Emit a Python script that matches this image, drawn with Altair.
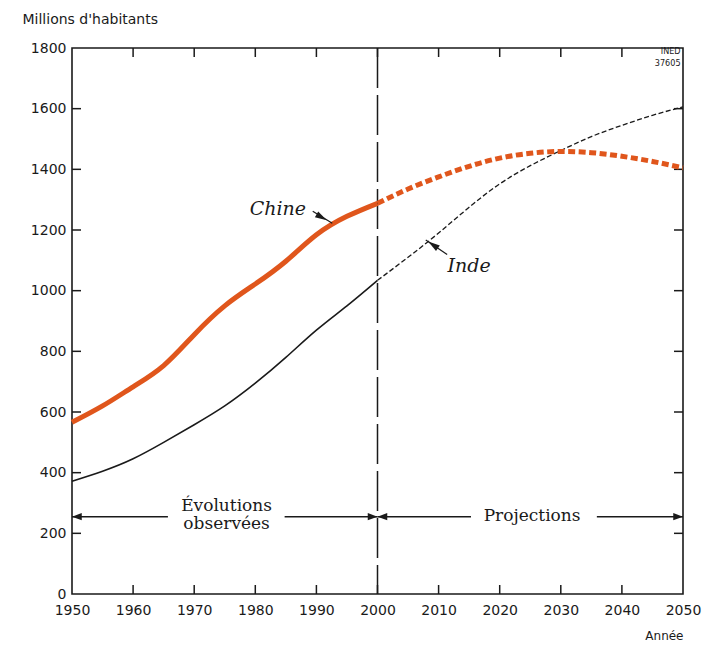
import altair as alt
import pandas as pd

# ---- data ----
years_obs = [1950, 1955, 1960, 1965, 1970, 1975, 1980, 1985, 1990, 1995, 2000]
chine_obs = [566, 620, 683, 753, 855, 950, 1022, 1097, 1184, 1245, 1288]
inde_obs = [372, 405, 446, 500, 558, 620, 695, 780, 870, 950, 1034]

years_proj = [2000, 2005, 2010, 2015, 2020, 2025, 2030, 2035, 2040, 2045, 2050]
chine_proj = [1288, 1335, 1375, 1410, 1437, 1453, 1459, 1455, 1443, 1426, 1405]
inde_proj = [1034, 1110, 1190, 1275, 1352, 1412, 1462, 1508, 1545, 1578, 1606]

x_ticks = [1950, 1960, 1970, 1980, 1990, 2000, 2010, 2020, 2030, 2040, 2050]
y_ticks = [0, 200, 400, 600, 800, 1000, 1200, 1400, 1600, 1800]

W, H = 611, 546
X0, X1, Y0, Y1 = 1950, 2050, 0, 1800
TICK = 9
tx = TICK * (X1 - X0) / W
ty = TICK * (Y1 - Y0) / H

ORANGE = "#e0561c"
INK = "#1a1a1a"

xs = alt.Scale(domain=[X0, X1], nice=False, zero=False)
ys = alt.Scale(domain=[Y0, Y1], nice=False, zero=False)

x_axis = alt.Axis(
    values=x_ticks, format="d", title="Année", domain=False, ticks=False, grid=False,
    labelFont="DejaVu Sans", labelFontSize=14, labelColor=INK, labelPadding=9,
    labelFlush=False, labelOverlap=False, labelBound=False,
    titleFont="DejaVu Sans", titleFontSize=12, titleFontWeight="normal", titleColor=INK,
    titleAlign="right", titleAnchor="end", titleX=W, titleY=45, titleBaseline="alphabetic")
y_axis = alt.Axis(
    values=y_ticks, format="d", title="Millions d'habitants", domain=False, ticks=False, grid=False,
    labelFont="DejaVu Sans", labelFontSize=14, labelColor=INK, labelPadding=6,
    labelFlush=False, labelOverlap=False, labelBound=False,
    titleFont="DejaVu Sans", titleFontSize=14, titleFontWeight="normal", titleColor=INK,
    titleAngle=0, titleAlign="left", titleX=-50, titleY=-25, titleBaseline="alphabetic")


def X(f, **kw):
    return alt.X(f, type="quantitative", scale=xs, axis=x_axis, **kw)


def Y(f, **kw):
    return alt.Y(f, type="quantitative", scale=ys, axis=y_axis, **kw)


df_obs = pd.DataFrame({"year": years_obs, "Chine": chine_obs, "Inde": inde_obs})
df_proj = pd.DataFrame({"year": years_proj, "Chine": chine_proj, "Inde": inde_proj})

# inner ticks on the four sides
inner_x = [v for v in x_ticks if X0 < v < X1]
inner_y = [v for v in y_ticks if Y0 < v < Y1]
bt = pd.DataFrame({"x": inner_x, "a": [Y0] * len(inner_x), "b": [Y0 + ty] * len(inner_x)})
tt = pd.DataFrame({"x": inner_x, "a": [Y1] * len(inner_x), "b": [Y1 - ty] * len(inner_x)})
lt = pd.DataFrame({"y": inner_y, "a": [X0] * len(inner_y), "b": [X0 + tx] * len(inner_y)})
rt = pd.DataFrame({"y": inner_y, "a": [X1] * len(inner_y), "b": [X1 - tx] * len(inner_y)})
tick_style = dict(color=INK, strokeWidth=1.5)
ticks = (
    alt.Chart(bt).mark_rule(**tick_style).encode(x=X("x"), y=Y("a"), y2="b")
    + alt.Chart(tt).mark_rule(**tick_style).encode(x=X("x"), y=Y("a"), y2="b")
    + alt.Chart(lt).mark_rule(**tick_style).encode(y=Y("y"), x=X("a"), x2="b")
    + alt.Chart(rt).mark_rule(**tick_style).encode(y=Y("y"), x=X("a"), x2="b")
)

# vertical separator at 2000
sep = alt.Chart(pd.DataFrame({"x": [2000], "a": [Y1], "b": [Y0]})).mark_rule(
    color=INK, strokeWidth=1.5, strokeDash=[40, 7]
).encode(x=X("x"), y=Y("a"), y2="b")

# period arrows
ARROW_Y = 255
segs = pd.DataFrame({"a": [1950, 1984.8, 2000, 2035.9], "b": [1965.7, 2000, 2015.3, 2050],
                     "y": [ARROW_Y] * 4})
seg_rules = alt.Chart(segs).mark_rule(color=INK, strokeWidth=1.5).encode(
    x=X("a"), x2="b", y=Y("y"))
right_head = "M0,0 L-1,-0.38 L-1,0.38 Z"
left_head = "M0,0 L1,-0.38 L1,0.38 Z"
heads_r = alt.Chart(pd.DataFrame({"x": [2000, 2050], "y": [ARROW_Y] * 2})).mark_point(
    shape=right_head, filled=True, color=INK, size=380, opacity=1).encode(x=X("x"), y=Y("y"))
heads_l = alt.Chart(pd.DataFrame({"x": [1950, 2000], "y": [ARROW_Y] * 2})).mark_point(
    shape=left_head, filled=True, color=INK, size=380, opacity=1).encode(x=X("x"), y=Y("y"))

period_text = alt.Chart(pd.DataFrame({
    "x": [1975.3, 1975.3, 2025.3], "y": [ARROW_Y + 36, ARROW_Y - 24, ARROW_Y + 3],
    "t": ["Évolutions", "observées", "Projections"]})).mark_text(
    font="DejaVu Serif", fontSize=17, color=INK, baseline="middle", align="center"
).encode(x=X("x"), y=Y("y"), text="t:N")

# the series
INTERP = "natural"
chine_o = alt.Chart(df_obs).mark_line(color=ORANGE, strokeWidth=5, interpolate=INTERP).encode(
    x=X("year"), y=Y("Chine"))
chine_p = alt.Chart(df_proj).mark_line(color=ORANGE, strokeWidth=5, strokeDash=[7, 3.5],
                                       interpolate=INTERP).encode(x=X("year"), y=Y("Chine"))
inde_o = alt.Chart(df_obs).mark_line(color=INK, strokeWidth=1.6, interpolate=INTERP).encode(
    x=X("year"), y=Y("Inde"))
inde_p = alt.Chart(df_proj).mark_line(color=INK, strokeWidth=1.3, strokeDash=[5, 2.5],
                                      interpolate=INTERP).encode(x=X("year"), y=Y("Inde"))

# series labels with small arrows
lab = alt.Chart(pd.DataFrame({"x": [1983.7, 2015.0], "y": [1268, 1082], "t": ["Chine", "Inde"]})).mark_text(
    font="DejaVu Serif", fontStyle="italic", fontSize=19, color=INK, align="center", baseline="middle"
).encode(x=X("x"), y=Y("y"), text="t:N")
lab_lines = alt.Chart(pd.DataFrame({"a": [1989.4, 2011.4], "b": [1992.6, 2007.9],
                                    "ya": [1262, 1119], "yb": [1222, 1167]})).mark_rule(
    color=INK, strokeWidth=1.2).encode(x=X("a"), x2="b", y=Y("ya"), y2="yb")
wedge = "M0,0 L-0.28,1 L0.28,1 Z"
lab_heads = alt.Chart(pd.DataFrame({"x": [1991.7, 2008.3], "y": [1232, 1162], "ang": [120, 305]})).mark_point(
    shape=wedge, filled=True, color=INK, size=560, opacity=1).encode(
    x=X("x"), y=Y("y"), angle=alt.Angle("ang:Q", scale=None))

ined = alt.Chart(pd.DataFrame({"x": [2049.6, 2049.6], "y": [1790, 1752], "t": ["INED", "37605"]})).mark_text(
    font="DejaVu Sans Condensed", fontSize=9, color=INK, align="right", baseline="middle"
).encode(x=X("x"), y=Y("y"), text="t:N")

chart = alt.layer(
    ticks, sep, seg_rules, heads_r, heads_l, period_text,
    inde_o, inde_p, chine_o, chine_p, lab_lines, lab_heads, lab, ined
).properties(
    width=W, height=H,
    autosize=alt.AutoSizeParams(type="none"),
    padding={"left": 64, "top": 40, "right": 20, "bottom": 50},
).configure(
    background="white",
    view=alt.ViewConfig(stroke=INK, strokeWidth=1.6),
)

chart.save("out.html", embed_options={"renderer": "svg", "actions": False})
